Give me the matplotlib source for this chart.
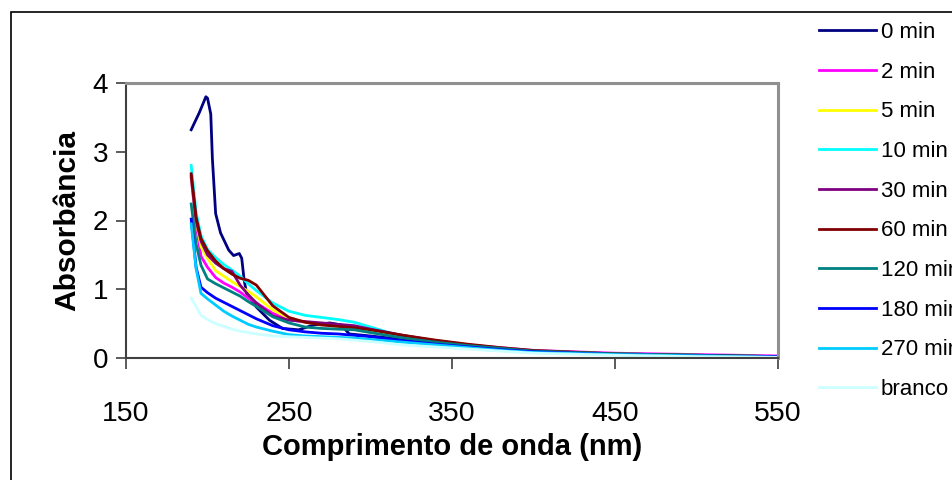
import matplotlib
matplotlib.use("Agg")
import matplotlib.pyplot as plt
from matplotlib.patches import Rectangle

# wavelength grids (nm)
wl = [190, 193, 196, 200, 205, 210, 215, 220, 225, 230, 240, 250, 260, 270,
      280, 290, 300, 320, 340, 360, 380, 400, 450, 500, 550]
wl_0min = [190, 195, 199, 200, 202, 203, 205, 208, 213, 216, 219.5, 221, 222.5,
           224, 230, 238, 246, 256, 265, 275, 282, 287, 300, 320, 340, 360,
           380, 400, 450, 500, 550]

# absorbance readings
abs_0min = [3.32, 3.57, 3.80, 3.78, 3.55, 2.90, 2.10, 1.82, 1.57, 1.49, 1.52,
            1.45, 1.13, 0.94, 0.74, 0.55, 0.43, 0.41, 0.48, 0.51, 0.48, 0.35,
            0.32, 0.27, 0.21, 0.17, 0.13, 0.10, 0.06, 0.04, 0.02]
abs_2min = [2.62, 1.95, 1.48, 1.32, 1.17, 1.09, 1.03, 0.96, 0.87, 0.80, 0.65,
            0.56, 0.52, 0.50, 0.48, 0.45, 0.41, 0.32, 0.25, 0.19, 0.15, 0.11,
            0.07, 0.05, 0.03]
abs_5min = [2.64, 2.00, 1.62, 1.45, 1.27, 1.19, 1.11, 1.04, 0.97, 0.89, 0.70,
            0.58, 0.52, 0.49, 0.46, 0.43, 0.39, 0.30, 0.23, 0.18, 0.14, 0.10,
            0.06, 0.04, 0.02]
abs_10min = [2.80, 2.12, 1.78, 1.58, 1.46, 1.36, 1.28, 1.19, 1.08, 0.98, 0.80,
             0.68, 0.62, 0.59, 0.56, 0.52, 0.45, 0.31, 0.24, 0.19, 0.14, 0.10,
             0.06, 0.04, 0.02]
abs_30min = [2.65, 2.00, 1.70, 1.50, 1.38, 1.30, 1.26, 1.06, 0.92, 0.80, 0.61,
             0.55, 0.53, 0.51, 0.49, 0.47, 0.42, 0.33, 0.25, 0.19, 0.14, 0.10,
             0.06, 0.04, 0.02]
abs_60min = [2.68, 2.05, 1.74, 1.56, 1.41, 1.30, 1.22, 1.16, 1.13, 1.06, 0.76,
             0.59, 0.52, 0.48, 0.46, 0.44, 0.41, 0.33, 0.26, 0.20, 0.15, 0.11,
             0.06, 0.04, 0.02]
abs_120min = [2.24, 1.66, 1.35, 1.15, 1.08, 1.02, 0.96, 0.90, 0.82, 0.75, 0.60,
              0.51, 0.45, 0.43, 0.42, 0.41, 0.37, 0.29, 0.23, 0.18, 0.14, 0.10,
              0.06, 0.04, 0.02]
abs_180min = [2.02, 1.32, 1.03, 0.95, 0.87, 0.81, 0.75, 0.69, 0.63, 0.57, 0.47,
              0.41, 0.38, 0.36, 0.35, 0.33, 0.31, 0.25, 0.20, 0.16, 0.12, 0.09,
              0.05, 0.03, 0.02]
abs_270min = [1.95, 1.30, 0.94, 0.86, 0.77, 0.68, 0.61, 0.55, 0.49, 0.45, 0.39,
              0.34, 0.32, 0.31, 0.30, 0.29, 0.27, 0.23, 0.19, 0.15, 0.11, 0.08,
              0.05, 0.03, 0.01]
abs_branco = [0.87, 0.75, 0.62, 0.56, 0.50, 0.46, 0.42, 0.39, 0.37, 0.35, 0.32,
              0.31, 0.30, 0.29, 0.28, 0.26, 0.24, 0.19, 0.16, 0.13, 0.10, 0.07,
              0.04, 0.02, 0.01]

labels = ["0 min", "2 min", "5 min", "10 min", "30 min", "60 min",
          "120 min", "180 min", "270 min", "branco"]
colors = ["#000080", "#FF00FF", "#FFFF00", "#00FFFF", "#800080", "#800000",
          "#008080", "#0000FF", "#00CCFF", "#CCFFFF"]
x_ticks = [150, 250, 350, 450, 550]
y_ticks = [0, 1, 2, 3, 4]

plt.rcParams["font.family"] = ["Liberation Sans", "DejaVu Sans"]

fig = plt.figure(figsize=(9.53, 4.8), dpi=100)
ax = fig.add_axes([126 / 953, 122 / 480, 652 / 953, 275 / 480])

series = [(wl_0min, abs_0min)] + [(wl, s) for s in
          [abs_2min, abs_5min, abs_10min, abs_30min, abs_60min,
           abs_120min, abs_180min, abs_270min, abs_branco]]
for (x, y), lab, c in zip(series, labels, colors):
    ax.plot(x, y, color=c, linewidth=2.0, label=lab, solid_joinstyle="round")

ax.set_xlim(150, 550)
ax.set_ylim(0, 4)
ax.set_xticks(x_ticks)
ax.set_yticks(y_ticks)
ax.set_xticklabels([str(t) for t in x_ticks], fontsize=20.5)
ax.set_yticklabels([str(t) for t in y_ticks], fontsize=20)
ax.tick_params(axis="x", direction="out", length=8, width=1.2, color="#404040", pad=23)
ax.tick_params(axis="y", direction="out", length=7, width=1.2, color="#404040", pad=6)

for side in ["left", "bottom"]:
    ax.spines[side].set_color("#404040")
    ax.spines[side].set_linewidth(1.5)
for side in ["top", "right"]:
    ax.spines[side].set_color("#909090")
    ax.spines[side].set_linewidth(2.2)

ax.set_xlabel("Comprimento de onda (nm)", fontsize=21,
              fontweight="bold", labelpad=4)
ax.set_ylabel("Absorbância", fontsize=21.5, fontweight="bold", labelpad=8)

ax.legend(loc="upper left", bbox_to_anchor=(819 / 953, 1 - 22 / 480),
          bbox_transform=fig.transFigure, frameon=False, borderpad=0,
          borderaxespad=0, handlelength=2.57, handletextpad=0.2,
          labelspacing=0.84, prop={"size": 16})

# outer chart frame
fig.add_artist(Rectangle((11 / 953, -0.1), 1.1, 1 - 12 / 480 + 0.1,
                         transform=fig.transFigure, fill=False,
                         edgecolor="black", linewidth=1.2))

fig.savefig("out.png", dpi=100)
